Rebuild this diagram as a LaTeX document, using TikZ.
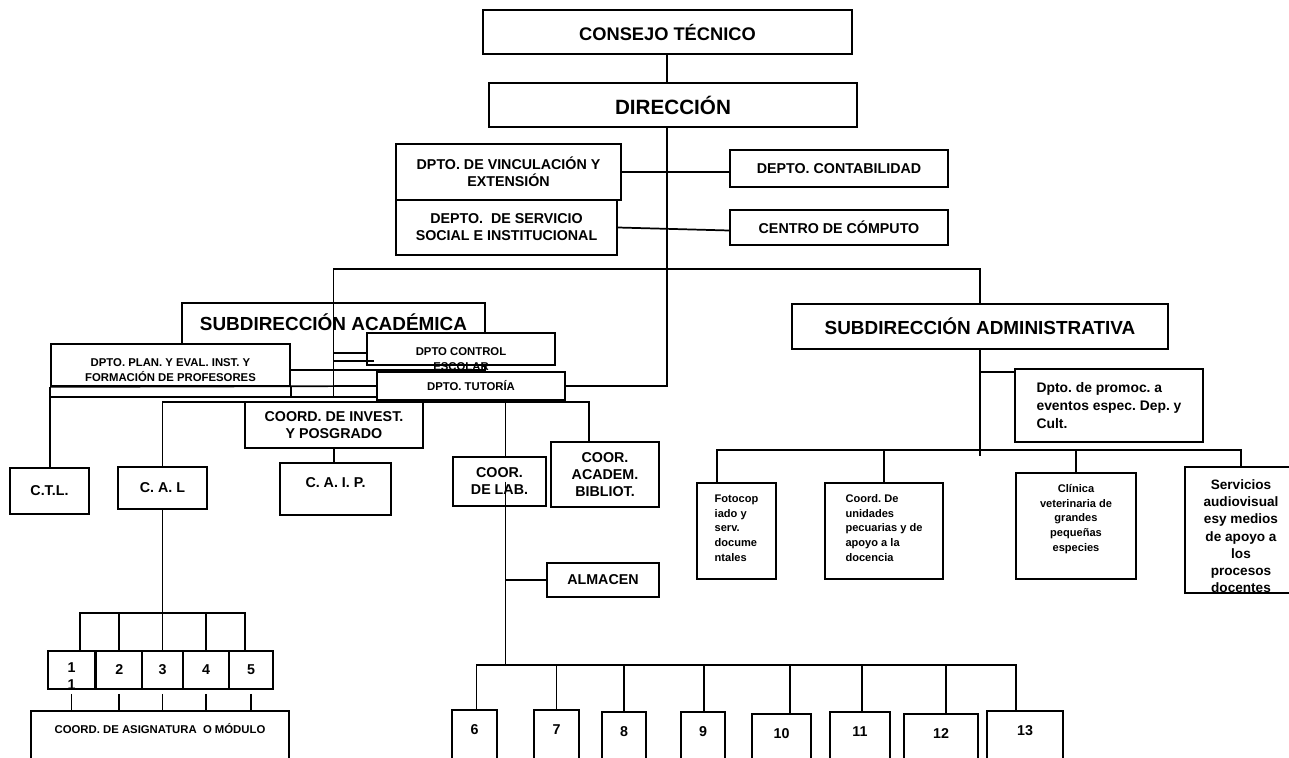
\documentclass[tikz,border=0pt]{standalone}
\usepackage{fontspec}
\setmainfont{Liberation Sans}
\frenchspacing
\usetikzlibrary{positioning, calc}

\tikzset{
  box/.style={rectangle, draw, fill=white, inner sep=0pt, align=center},
  wh/.style 2 args={minimum width=#1*0.75pt, minimum height=#2*0.75pt},
  tshift/.style={text height=#1, text depth=-#1},
  big/.style={font=\fontsize{14.2}{17}\selectfont\bfseries},
  mid/.style={font=\fontsize{10.7}{12.75}\selectfont\bfseries},
  small/.style={font=\fontsize{8.5}{11.25}\selectfont\bfseries},
  tiny/.style={font=\fontsize{8.3}{10.9}\selectfont\bfseries},
  numbox/.style={box, mid, minimum height=90*0.75pt, tshift=-31.5pt}
}

\begin{document}
\begin{tikzpicture}[x=0.75pt, y=-0.75pt, line width=1.3pt]
        \useasboundingbox (0,0) rectangle (1289,757);
        \clip (0,0) rectangle (1289,757);

        % Nodes
        \node[box, wh={369}{44}, font=\fontsize{13.7}{16}\selectfont\bfseries] (consejo) at (667.5,32) {CONSEJO TÉCNICO};
        \node[box, wh={368}{44}, font=\fontsize{15.5}{19}\selectfont\bfseries] (direccion) at (673,105) {DIRECCIÓN};
        \node[box, mid, wh={225}{56}] (vinc) at (508.5,172) {DPTO. DE VINCULACIÓN Y\\EXTENSIÓN};
        \node[box, mid, wh={221}{55}] (servicio) at (506.5,227.5) {DEPTO.~ DE SERVICIO\\SOCIAL E INSTITUCIONAL};
        \node[box, mid, wh={218}{37}] (contab) at (839,168.5) {DEPTO. CONTABILIDAD};
        \node[box, mid, wh={218}{35}] (centro) at (839,227.5) {CENTRO DE CÓMPUTO};

        \node[box, big, wh={303}{67}, tshift=-9.75pt] (subacad) at (333.5,336.5) {SUBDIRECCIÓN ACADÉMICA};
        \node[box, small, wh={239}{42}, tshift=24pt] (plan) at (170.5,365) {DPTO. PLAN. Y EVAL. INST. Y\\FORMACIÓN DE PROFESORES};
        \node[box, small, wh={188}{32}] (control) at (461,349) {\raisebox{-10pt}[0pt][0pt]{\begin{tabular}{@{}c@{}}DPTO CONTROL\\ESCOLAR\end{tabular}}};
        \node[box, small, wh={188}{28}] (tutoria) at (471,386) {DPTO. TUTORÍA};

        \node[box, big, wh={376}{45}] (subadm) at (980,326.5) {SUBDIRECCIÓN ADMINISTRATIVA};
        \node[box, wh={188}{73}, align=left, font=\fontsize{10.4}{13.5}\selectfont\bfseries] (promoc) at (1109,405.5) {Dpto. de promoc. a\\eventos espec. Dep. y\\Cult.};
        \node[box, tiny, wh={79}{96}, align=left, tshift=45pt] (fotocop) at (736.5,531) {Fotocop\\iado y\\serv.\\docume\\ntales};
        \node[box, tiny, wh={118}{96}, align=left, tshift=45pt] (coordunid) at (884,531) {Coord. De\\unidades\\pecuarias y de\\apoyo a la\\docencia};
        \node[box, tiny, wh={120}{106}, tshift=37.5pt] (clinica) at (1076,526) {Clínica\\veterinaria de\\grandes\\pequeñas\\especies};
        \node[box, wh={112}{126}, tshift=94pt, font=\fontsize{10.2}{12.9}\selectfont\bfseries] (servicios) at (1241,530) {Servicios\\audiovisual\\esy medios\\de apoyo a\\los\\procesos\\docentes};

        \node[box, mid, wh={178}{46}] (coordinv) at (334,425) {COORD. DE INVEST.\\Y POSGRADO};
        \node[box, mid, wh={79}{46}] (ctl) at (49.5,491) {C.T.L.};
        \node[box, mid, wh={89}{42}] (cal) at (162.5,488) {C. A. L};
        \node[box, mid, wh={111}{52}, tshift=-3pt] (caip) at (335.5,489) {C. A. I. P.};
        \node[box, mid, wh={93}{49}] (coorlab) at (499.5,481.5) {COOR.\\DE LAB.};
        \node[box, mid, wh={108}{65}] (biblio) at (605,474.5) {COOR.\\ACADEM.\\BIBLIOT.};
        \node[box, mid, wh={112}{34}] (almacen) at (603,580) {ALMACEN};

        \node[box, mid, wh={47}{38}, tshift=28.5pt] (b1) at (71.5,670) {1\\1};
        \node[box, mid, wh={45.5}{38}] (b2) at (119.25,670) {2};
        \node[box, mid, wh={41}{38}] (b3) at (162.5,670) {3};
        \node[box, mid, wh={46}{38}] (b4) at (206,670) {4};
        \node[box, mid, wh={44}{38}] (b5) at (251,670) {5};
        \node[box, small, wh={258}{89}, tshift=-33.75pt] (asign) at (160,755.5) {COORD. DE ASIGNATURA~ O MÓDULO};

        \node[numbox, minimum width=45*0.75pt] (n6) at (474.5,755) {6};
        \node[numbox, minimum width=45*0.75pt] (n7) at (556.5,755) {7};
        \node[numbox, minimum width=44*0.75pt] (n8) at (624,757) {8};
        \node[numbox, minimum width=44*0.75pt] (n9) at (703,757) {9};
        \node[numbox, minimum width=59*0.75pt] (n10) at (781.5,759) {10};
        \node[numbox, minimum width=60*0.75pt] (n11) at (860,757) {11};
        \node[numbox, minimum width=74*0.75pt] (n12) at (941,759) {12};
        \node[numbox, minimum width=76*0.75pt] (n13) at (1025,756) {13};

        % Joints
        \coordinate (spine) at (667,387);
        \coordinate (acadjoin) at (333.5,397);
        \coordinate (acadbus) at (333.5,402);
        \coordinate (rowbus) at (162.5,613);
        \coordinate (labtop) at ([xshift=4.5pt]coorlab.north);
        \coordinate (labbus) at (505.5,665);
        \coordinate (admend) at (980,456);
        \coordinate (admbus) at (980,450);
        \coordinate (promtop) at ([yshift=-3pt]promoc.north west);
        \coordinate (fototop) at ([xshift=-14.6pt]fotocop.north);

        % Main spine
        \draw (consejo.south -| spine) -- (direccion.north -| spine);
        \draw (direccion.south -| spine) -- (spine);
        \draw (tutoria.east) -- (tutoria.east -| spine);
        \draw (vinc.east) -- (vinc.east -| contab.west);
        \draw (servicio.east) -- ([yshift=-2.25pt]centro.west);
        \draw (subacad.north) -- ++(0,-33) -| (subadm.north);

        % Academic side
        \draw (subacad.north) -- (acadjoin);
        \draw ([yshift=-3pt]control.west) -| (acadjoin);
        \draw ([xshift=6pt, yshift=-9pt]control.west) -| (acadjoin);
        \draw ([yshift=-3.75pt]plan.east) -| (acadjoin);
        \draw (plan.south west) -- (tutoria.west);
        \draw (plan.west |- acadjoin) -- (tutoria.west |- acadjoin);
        \draw (plan.south east) -- (plan.south east |- acadjoin);
        \draw (plan.south west) -- (plan.south west |- ctl.north);
        \draw (cal.north) |- (acadbus) -| ([xshift=-12pt]biblio.north);
        \draw (labtop) -- (labtop |- acadbus);
        \draw (coordinv.south) -- (coordinv.south |- caip.north);

        % Subjects row
        \draw (cal.south) -- (rowbus);
        \draw ([xshift=6.4pt]b1.north) |- (rowbus) -| ([xshift=-4.5pt]b5.north);
        \foreach \k in {b2,b3,b4}
        \draw (\k.north) -- (\k.north |- rowbus);
        \foreach \k in {b1,b2,b3,b4,b5}
        \draw ([yshift=-3pt]\k.south) -- (\k.south |- asign.north);

        % Labs
        \draw (labtop |- coorlab.center) -- (labbus);
        \draw (almacen.west) -- (almacen.west -| labbus);
        \draw ([xshift=1.5pt]n6.north) |- (labbus) -| ([xshift=-6.75pt]n13.north);
        \foreach \k/\s in {n7/0, n8/0, n9/0.75, n10/6.4, n11/1.5, n12/3.75} {
          \coordinate (tmp) at ([xshift=\s pt]\k.north);
          \draw (tmp) -- (tmp |- labbus);
        }

        % Administrative side
        \draw (subadm.south) -- (admend);
        \draw (promtop) -- (promtop -| admend);
        \draw (fototop) |- (admbus) -| (servicios.north);
        \draw (coordunid.north) -- (coordunid.north |- admbus);
        \draw (clinica.north) -- (clinica.north |- admbus);

\end{tikzpicture}
\end{document}
